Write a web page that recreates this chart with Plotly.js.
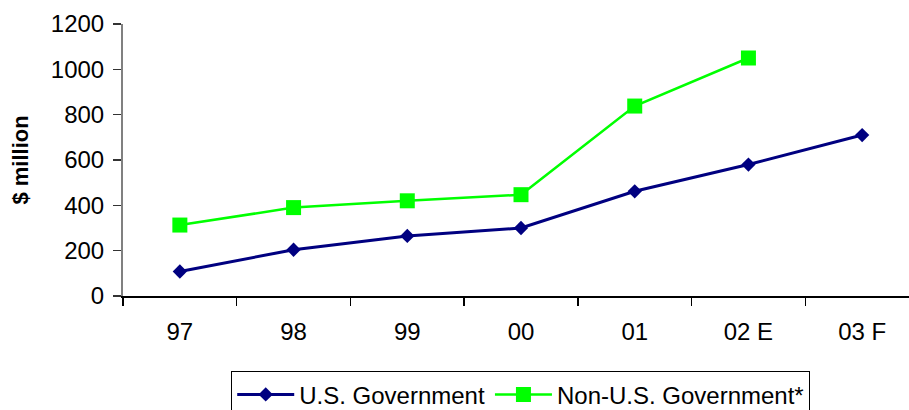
<!DOCTYPE html>
<html>
<head>
<meta charset="utf-8">
<script src="https://cdn.plot.ly/plotly-3.0.1.min.js"></script>
<style>html,body{margin:0;padding:0;background:#fff;}#chart{width:909px;height:410px;}</style>
</head>
<body>
<div id="chart"></div>
<script>
const categories = ["97", "98", "99", "00", "01", "02 E", "03 F"];
const usGov = [108, 204, 265, 300, 462, 580, 710];
const nonUsGov = [313, 390, 420, 447, 838, 1050, null];
const yTicks = [0, 200, 400, 600, 800, 1000, 1200];

const font = {family: "Arial, 'Liberation Sans', sans-serif", size: 24, color: "#000"};

const traces = [
  {
    x: categories, y: usGov, name: "U.S. Government", type: "scatter", mode: "lines+markers",
    line: {color: "#000080", width: 3},
    marker: {symbol: "diamond", size: 11, color: "#000080"}
  },
  {
    x: categories, y: nonUsGov, name: "Non-U.S. Government*", type: "scatter", mode: "lines+markers",
    line: {color: "#00FF00", width: 2.5},
    marker: {symbol: "square", size: 15, color: "#00FF00"}
  }
];

const layout = {
  width: 909, height: 410,
  margin: {l: 123, r: 0, t: 23.5, b: 114, autoexpand: false},
  paper_bgcolor: "#fff", plot_bgcolor: "#fff",
  font: font,
  showlegend: true,
  legend: {
    orientation: "h", x: 0.506, xanchor: "center", y: -0.277, yanchor: "top",
    bordercolor: "#000", borderwidth: 1, font: font, itemwidth: 57,
    bgcolor: "#fff"
  },
  xaxis: {
    type: "category", range: [-0.5, 6.412], fixedrange: true,
    showline: true, linecolor: "#000", linewidth: 1.5,
    ticks: "outside", tickson: "boundaries", ticklen: 8, tickcolor: "#000", tickwidth: 1.5,
    showgrid: false, zeroline: false, ticklabelstandoff: 14,
    tickfont: font
  },
  yaxis: {
    range: [0, 1200], tickvals: yTicks, ticktext: yTicks.map(String),
    showline: true, linecolor: "#808080", linewidth: 2,
    ticks: "outside", ticklen: 8, tickcolor: "#333", tickwidth: 1.5,
    showgrid: false, zeroline: false, ticklabelstandoff: 4,
    tickfont: font,
    title: {text: "<b>$ million</b>", font: {family: font.family, size: 22, color: "#000"}, standoff: 16}
  }
};

Plotly.newPlot("chart", traces, layout, {displayModeBar: false, staticPlot: true});
</script>
</body>
</html>
